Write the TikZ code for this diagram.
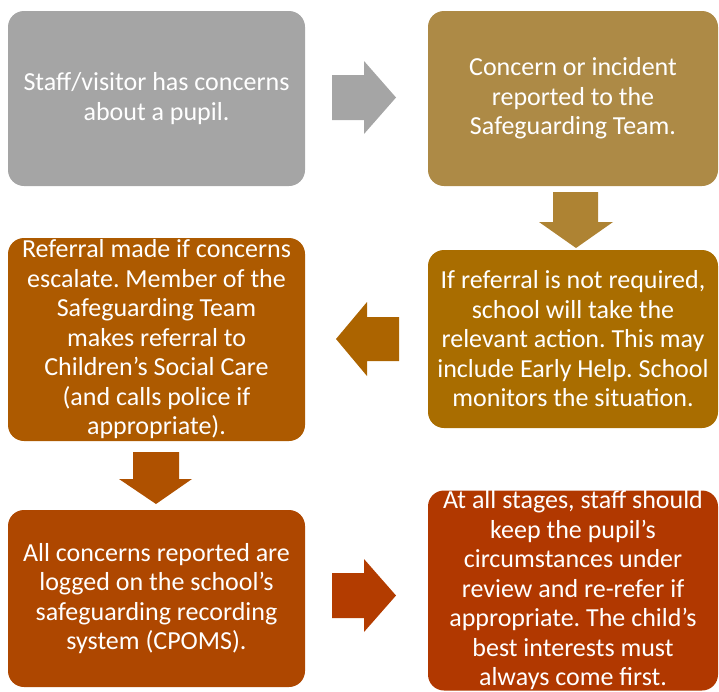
\documentclass[tikz,border=0pt]{standalone}
\usepackage{fontspec}
\setmainfont{Carlito}
\frenchspacing
\definecolor{cA}{HTML}{A5A5A5}
\definecolor{cB}{HTML}{AD8A46}
\definecolor{aB}{HTML}{AE8333}
\definecolor{cC}{HTML}{A96D00}
\definecolor{aC}{HTML}{AC6400}
\definecolor{cD}{HTML}{AD5A00}
\definecolor{aD}{HTML}{AF5100}
\definecolor{cE}{HTML}{AE4700}
\definecolor{aE}{HTML}{B33C00}
\definecolor{cF}{HTML}{B13800}
\begin{document}
\begin{tikzpicture}[x=1pt,y=-1pt,
  box/.style={rounded corners=16pt, text=white, align=center,
    font=\fontsize{26}{29.5}\selectfont\frenchspacing, inner sep=0pt},
  blockarrow/.style={draw=none}]
\useasboundingbox (0,0) rectangle (719,691);
\node[box, fill=cA, minimum width=297pt, minimum height=175pt] (b1) at (156.5,98.5)
  {Staff/visitor has concerns\\about a pupil.};
\node[box, fill=cB, minimum width=290pt, minimum height=175pt] (b2) at (573,98.5)
  {Concern or incident\\reported to the\\Safeguarding Team.};
\node[box, fill=cD, minimum width=297pt, minimum height=203pt] (b3) at (156.5,339.5)
  {Referral made if concerns\\escalate. Member of the\\Safeguarding Team\\makes referral to\\Children’s Social Care\\(and calls police if\\appropriate).};
\node[box, fill=cC, minimum width=290pt, minimum height=178pt] (b4) at (573,339)
  {If referral is not required,\\school will take the\\relevant action. This may\\include Early Help. School\\monitors the situation.};
\node[box, fill=cE, minimum width=297pt, minimum height=177pt] (b5) at (156.5,598.5)
  {All concerns reported are\\logged on the school’s\\safeguarding recording\\system (CPOMS).};
\node[box, fill=cF, minimum width=290pt, minimum height=200pt] (b6) at (573,590.5)
  {At all stages, staff should\\keep the pupil’s\\circumstances under\\review and re-refer if\\appropriate. The child’s\\best interests must\\always come first.};
% block arrows
\fill[cA] (332,75) -- (364,75) -- (364,61) -- (396,97.5) -- (364,134) -- (364,120) -- (332,120) -- cycle;
\fill[aB] (553,192) -- (598,192) -- (598,222) -- (613,222) -- (576,248) -- (539,222) -- (553,222) -- cycle;
\fill[aC] (399,317) -- (367,317) -- (367,302) -- (336,339) -- (367,376) -- (367,361) -- (399,361) -- cycle;
\fill[aD] (133,452) -- (179,452) -- (179,479) -- (192,479) -- (156,504) -- (119,479) -- (133,479) -- cycle;
\fill[aE] (332,573) -- (364,573) -- (364,559) -- (396,595.5) -- (364,632) -- (364,618) -- (332,618) -- cycle;
\end{tikzpicture}
\end{document}
